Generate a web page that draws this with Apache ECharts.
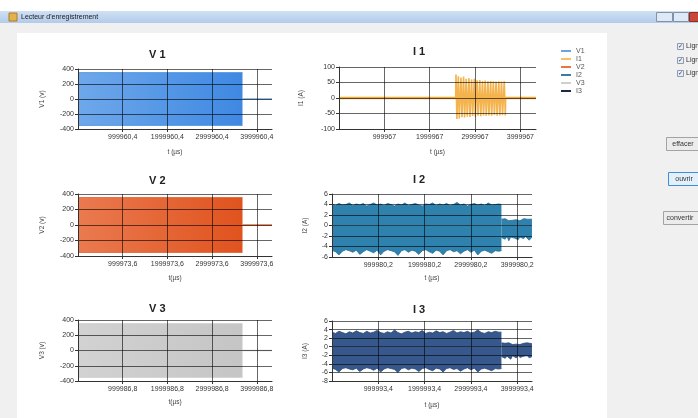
<!DOCTYPE html>
<html>
<head>
<meta charset="utf-8">
<script src="https://cdn.jsdelivr.net/npm/echarts@6/dist/echarts.min.js"></script>
<style>html,body{margin:0;padding:0;background:#f0f0f0}#c{width:698px;height:418px}</style>
</head>
<body>
<div id="c"></div>
<script>
// ---------- names / labels ----------
const seriesNames = ['V1', 'I1', 'V2', 'I2', 'V3', 'I3'];
const chartTitles = ['V 1', 'I 1', 'V 2', 'I 2', 'V 3', 'I 3'];
const yAxisNames = ['V1 (v)', 'I1 (A)', 'V2 (v)', 'I2 (A)', 'V3 (v)', 'I3 (A)'];
const xAxisNames = ['t (µs)', 't (µs)', 't(µs)', 't (µs)', 't(µs)', 't (µs)'];

// x axis (µs): start offset of each plot and its end
const xStart = [-39.6, -33, -26.4, -19.8, -13.2, -6.6];
const xEnd = [4339960.4, 4344967, 4339973.6, 4319980.2, 4339986.8, 4319993.4];
const xTickLabelsV1 = ['999960,4', '1999960,4', '2999960,4', '3999960,4'];
const xTickLabelsI1 = ['999967', '1999967', '2999967', '3999967'];
const xTickLabelsV2 = ['999973,6', '1999973,6', '2999973,6', '3999973,6'];
const xTickLabelsI2 = ['999980,2', '1999980,2', '2999980,2', '3999980,2'];
const xTickLabelsV3 = ['999986,8', '1999986,8', '2999986,8', '3999986,8'];
const xTickLabelsI3 = ['999993,4', '1999993,4', '2999993,4', '3999993,4'];

// y ticks
const yTicksV1 = [-400, -200, 0, 200, 400];
const yTicksI1 = [-100, -50, 0, 50, 100];
const yTicksV2 = [-400, -200, 0, 200, 400];
const yTicksI2 = [-6, -4, -2, 0, 2, 4, 6];
const yTicksV3 = [-400, -200, 0, 200, 400];
const yTicksI3 = [-8, -6, -4, -2, 0, 2, 4, 6];

// ---------- data (envelopes) ----------
// V1
const v1Time = [0, 3680000];
const v1Upper = [352, 352];
const v1Lower = [-352, -352];
const v1TailTime = [3680000, 4339960];
const v1Tail = [0, 0];
// V2
const v2Time = [0, 3680000];
const v2Upper = [355, 355];
const v2Lower = [-355, -355];
const v2TailTime = [3680000, 4339973];
const v2Tail = [0, 0];
// V3
const v3Time = [0, 3680000];
const v3Upper = [352, 352];
const v3Lower = [-352, -352];
const v3TailTime = [3680000, 4339986];
const v3Tail = [0, 0];
// I1
const i1BaseTime = [0, 4344900];
const i1Base = [0, 0];
const i1SpikeTime = [2574000, 2580000, 2600000, 2632000, 2652000, 2690000, 2712000, 2748000, 2770000, 2806000,
  2828000, 2866000, 2888000, 2925000, 2947000, 2985000, 3007000, 3045000, 3067000, 3105000,
  3127000, 3165000, 3187000, 3225000, 3247000, 3285000, 3307000, 3345000, 3367000, 3405000,
  3427000, 3465000, 3487000, 3525000, 3547000, 3585000, 3607000, 3645000, 3668000, 3676000];
const i1Spike = [0, 76, -68, 70, -66, 66, -62, 69, -63, 62,
  -60, 64, -61, 60, -58, 62, -60, 57, -57, 58,
  -59, 55, -56, 56, -58, 54, -56, 55, -57, 54,
  -55, 53, -57, 54, -56, 53, -55, 54, -56, 0];
// I2
const i2Time = [0, 75000, 150000, 225000, 300000, 375000, 450000, 525000, 600000, 675000,
  750000, 825000, 900000, 975000, 1050000, 1125000, 1200000, 1275000, 1350000, 1425000,
  1500000, 1575000, 1650000, 1725000, 1800000, 1875000, 1950000, 2025000, 2100000, 2175000,
  2250000, 2325000, 2400000, 2475000, 2550000, 2625000, 2700000, 2775000, 2850000, 2925000,
  3000000, 3075000, 3150000, 3225000, 3300000, 3375000, 3450000, 3525000, 3600000, 3660000];
const i2Upper = [4.1, 3.8, 4.2, 3.9, 4.0, 4.3, 3.8, 4.1, 3.9, 4.2,
  3.7, 4.0, 4.3, 3.9, 4.1, 3.8, 4.2, 4.0, 3.7, 4.1,
  3.9, 4.3, 3.8, 4.0, 4.2, 3.9, 3.7, 4.1, 4.0, 4.3,
  3.8, 4.1, 3.9, 4.2, 3.8, 4.0, 4.4, 3.9, 4.1, 3.7,
  4.0, 4.2, 3.9, 4.1, 3.8, 4.3, 3.9, 4.0, 4.1, 4.0];
const i2Lower = [-4.7, -5.0, -5.6, -4.9, -4.6, -4.8, -5.1, -4.7, -5.5, -5.0,
  -4.6, -4.9, -5.2, -4.7, -5.6, -4.9, -4.6, -4.8, -5.0, -5.7,
  -4.8, -4.6, -5.1, -4.7, -4.9, -5.5, -4.8, -4.6, -5.0, -5.3,
  -4.7, -4.9, -5.6, -4.8, -4.6, -5.0, -4.8, -5.4, -4.9, -4.6,
  -5.1, -4.7, -5.6, -4.9, -4.7, -5.0, -5.3, -4.8, -4.9, -4.8];
const i2TailTime = [3660000, 3700000, 3740000, 3780000, 3820000, 3860000, 3900000, 3940000, 3980000,
  4020000, 4060000, 4100000, 4140000, 4180000, 4220000, 4260000, 4319000];
const i2TailUpper = [1.2, 1.0, 1.3, 1.1, 0.9, 1.2, 1.0, 1.3, 1.1, 1.2, 0.9, 1.1, 1.3, 1.0, 1.2, 1.1, 1.2];
const i2TailLower = [-2.3, -2.0, -2.6, -2.1, -2.9, -2.2, -2.0, -2.4, -2.1, -2.7, -2.2, -2.0, -2.5, -2.1, -2.3, -2.8, -2.2];
// I3
const i3Time = [0, 75000, 150000, 225000, 300000, 375000, 450000, 525000, 600000, 675000,
  750000, 825000, 900000, 975000, 1050000, 1125000, 1200000, 1275000, 1350000, 1425000,
  1500000, 1575000, 1650000, 1725000, 1800000, 1875000, 1950000, 2025000, 2100000, 2175000,
  2250000, 2325000, 2400000, 2475000, 2550000, 2625000, 2700000, 2775000, 2850000, 2925000,
  3000000, 3075000, 3150000, 3225000, 3300000, 3375000, 3450000, 3525000, 3600000, 3660000];
const i3Upper = [3.4, 3.1, 3.6, 3.3, 3.0, 3.5, 3.2, 3.7, 3.3, 3.1,
  3.6, 3.2, 3.4, 3.8, 3.3, 3.1, 3.5, 3.2, 3.9, 3.3,
  3.0, 3.4, 3.6, 3.2, 3.5, 3.3, 3.8, 3.1, 3.4, 3.2,
  3.7, 3.3, 3.5, 3.1, 3.4, 3.8, 3.2, 3.5, 3.3, 3.6,
  3.2, 3.4, 3.9, 3.3, 3.1, 3.5, 3.3, 3.6, 3.4, 3.4];
const i3Lower = [-5.0, -5.3, -5.9, -5.1, -4.9, -5.2, -5.4, -5.0, -5.8, -5.2,
  -4.9, -5.1, -5.5, -5.0, -5.9, -5.2, -4.9, -5.1, -5.3, -6.0,
  -5.1, -4.9, -5.4, -5.0, -5.2, -5.8, -5.1, -4.9, -5.3, -5.6,
  -5.0, -5.2, -5.9, -5.1, -4.9, -5.3, -5.1, -5.7, -5.2, -4.9,
  -5.4, -5.0, -5.9, -5.2, -5.0, -5.3, -5.6, -5.1, -5.2, -5.1];
const i3TailTime = [3660000, 3700000, 3740000, 3780000, 3820000, 3860000, 3900000, 3940000, 3980000,
  4020000, 4060000, 4100000, 4140000, 4180000, 4220000, 4260000, 4319000];
const i3TailUpper = [0.9, 0.6, 0.8, 0.5, 0.9, 0.7, 0.5, 0.8, 0.6, 0.9, 0.5, 0.7, 0.8, 0.6, 0.9, 0.6, 0.7];
const i3TailLower = [-2.3, -2.0, -2.7, -2.2, -2.4, -2.9, -2.1, -2.3, -2.6, -2.0, -2.5, -2.8, -2.2, -2.4, -2.1, -2.6, -2.3];

// ---------- styling / layout ----------
const FONT = 'Liberation Sans';
const legendColors = ['#6fa3dd', '#f6c25e', '#e8783f', '#3a7d9f', '#cfcfcf', '#1c2a48'];
const grids = [
  { left: 78, top: 69, width: 194, height: 60 },
  { left: 339, top: 67, width: 197, height: 62 },
  { left: 78, top: 194, width: 194, height: 62 },
  { left: 332, top: 194, width: 200, height: 63 },
  { left: 78, top: 320, width: 194, height: 61 },
  { left: 332, top: 321, width: 200, height: 60 }
];
const xTickLabels = [xTickLabelsV1, xTickLabelsI1, xTickLabelsV2, xTickLabelsI2, xTickLabelsV3, xTickLabelsI3];
const yTicks = [yTicksV1, yTicksI1, yTicksV2, yTicksI2, yTicksV3, yTicksI3];
const xNameGap = [20, 20, 19, 18, 18, 21];
const yNameGap = [32, 34, 32, 23, 32, 23];
const titlePos = [[149, 49], [413, 46], [149, 175], [413, 174], [149, 303], [413, 304]];

const gridLineColor = 'rgba(0,0,0,0.6)';

const xAxes = grids.map((g, i) => ({
  gridIndex: i, type: 'value', min: xStart[i], max: xEnd[i], interval: 1000000, z: 5,
  name: xAxisNames[i], nameLocation: 'middle', nameGap: xNameGap[i],
  nameTextStyle: { fontSize: 6.5, color: '#444', fontFamily: FONT },
  axisLine: { show: true, onZero: false, lineStyle: { color: '#333', width: 1 } },
  axisTick: { show: true, length: 3, lineStyle: { color: '#333' } },
  axisLabel: {
    fontSize: 7, color: '#333', fontFamily: FONT, margin: 5, showMinLabel: false, showMaxLabel: false,
    formatter: v => { const k = Math.round((v - xStart[i]) / 1000000); return (k >= 1 && k <= xTickLabels[i].length) ? xTickLabels[i][k - 1] : ''; }
  },
  splitLine: { show: true, showMinLine: false, showMaxLine: false, lineStyle: { color: gridLineColor, width: 1 } }
}));

const yAxes = grids.map((g, i) => ({
  gridIndex: i, type: 'value', min: yTicks[i][0], max: yTicks[i][yTicks[i].length - 1],
  interval: yTicks[i][1] - yTicks[i][0], z: 5,
  name: yAxisNames[i], nameLocation: 'middle', nameRotate: 90, nameGap: yNameGap[i],
  nameTextStyle: { fontSize: 6.5, color: '#444', fontFamily: FONT },
  axisLine: { show: true, onZero: false, lineStyle: { color: '#333', width: 1 } },
  axisTick: { show: true, length: 3, lineStyle: { color: '#333' } },
  axisLabel: { fontSize: 7, color: '#333', fontFamily: FONT, margin: 4 },
  splitLine: { show: true, lineStyle: { color: gridLineColor, width: 1 } }
}));

function pts(t, v) { return t.map((x, k) => [x, v[k]]); }
function hgrad(c1, c2) { return { type: 'linear', x: 0, y: 0, x2: 1, y2: 0, colorStops: [{ offset: 0, color: c1 }, { offset: 1, color: c2 }] }; }

function bandSeries(idx, t, up, lo, fill, edge) {
  const base = { name: seriesNames[idx], type: 'line', xAxisIndex: idx, yAxisIndex: idx, symbol: 'none', silent: true, z: 2,
    lineStyle: { width: 0.8, color: edge }, areaStyle: { color: fill, opacity: 1 } };
  return [Object.assign({}, base, { data: pts(t, up) }), Object.assign({}, base, { data: pts(t, lo) })];
}
function lineSeries(idx, t, v, color, width, extra) {
  return Object.assign({ name: seriesNames[idx], type: 'line', xAxisIndex: idx, yAxisIndex: idx, symbol: 'none', silent: true, z: 3,
    lineStyle: { width: width, color: color }, data: pts(t, v) }, extra || {});
}

const series = [].concat(
  bandSeries(0, v1Time, v1Upper, v1Lower, hgrad('#6ea8eb', '#3f88e2'), '#4a8fe3'),
  [lineSeries(0, v1TailTime, v1Tail, '#6fa8df', 1.5)],
  [lineSeries(1, i1BaseTime, i1Base, '#f2aa3c', 2.5)],
  [lineSeries(1, i1SpikeTime, i1Spike, '#f4b34d', 1.6, { areaStyle: { color: '#f9cb80', opacity: 0.6 } })],
  bandSeries(2, v2Time, v2Upper, v2Lower, hgrad('#ea7a4f', '#e0531f'), '#e2602c'),
  [lineSeries(2, v2TailTime, v2Tail, '#e8683a', 1.5)],
  bandSeries(3, i2Time, i2Upper, i2Lower, '#2f82ae', '#236f9b'),
  bandSeries(3, i2TailTime, i2TailUpper, i2TailLower, '#2f82ae', '#236f9b'),
  bandSeries(4, v3Time, v3Upper, v3Lower, hgrad('#d2d2d2', '#c5c5c5'), '#c8c8c8'),
  [lineSeries(4, v3TailTime, v3Tail, '#d6d6d6', 1.5)],
  bandSeries(5, i3Time, i3Upper, i3Lower, '#37588d', '#2a4677'),
  bandSeries(5, i3TailTime, i3TailUpper, i3TailLower, '#37588d', '#2a4677')
);

const titles = chartTitles.map((t, i) => ({
  text: t, left: titlePos[i][0], top: titlePos[i][1], padding: 0,
  textStyle: { fontSize: 11, fontWeight: 'bold', color: '#222', fontFamily: FONT }
}));

// window chrome
const Z = -10;
function box(x, y, w, h, fill, stroke, extra) {
  return Object.assign({ type: 'rect', z: Z, silent: true, shape: { x: x, y: y, width: w, height: h }, style: { fill: fill, stroke: stroke || null, lineWidth: 1 } }, extra || {});
}
function txt(x, y, s, size, color, align) {
  return { type: 'text', z: Z + 1, silent: true, x: x, y: y, style: { text: s, fontSize: size, fill: color, fontFamily: FONT, align: align || 'left', verticalAlign: 'middle' } };
}
function check(y) {
  return { type: 'text', z: Z + 1, silent: true, x: 680.5, y: y, style: { text: '✓', fontSize: 6, fill: '#333', fontFamily: 'DejaVu Sans', align: 'center', verticalAlign: 'middle' } };
}
const graphicEls = [
  box(0, 0, 698, 11, '#ffffff'),
  box(0, 11, 698, 12, { type: 'linear', x: 0, y: 0, x2: 0, y2: 1, colorStops: [{ offset: 0, color: '#cfe0f4' }, { offset: 1, color: '#b2cbea' }] }),
  box(9, 13, 8, 8, '#e4b24c', '#b07a22'),
  txt(21, 17, "Lecteur d'enregistrement", 7, '#1a1a1a'),
  box(656.5, 12.5, 16, 9, '#dfe9f5', '#7f93ad'),
  box(673.5, 12.5, 15, 9, '#dfe9f5', '#7f93ad'),
  box(689.5, 12.5, 12, 9, '#c9473a', '#8f2c22'),
  box(17, 33, 590, 385, '#ffffff'),
  box(677.5, 43.5, 6, 6, '#e6edf7', '#8e9cb2'),
  box(677.5, 57.5, 6, 6, '#e6edf7', '#8e9cb2'),
  box(677.5, 70.5, 6, 6, '#e6edf7', '#8e9cb2'),
  check(46.5), check(60.5), check(73.5),
  txt(686, 46.5, 'Ligne', 7, '#333'),
  txt(686, 60.5, 'Ligne', 7, '#333'),
  txt(686, 73.5, 'Ligne', 7, '#333'),
  box(666.5, 137.5, 40, 13, '#ececec', '#a3a3a3'),
  txt(683, 144, 'effacer', 7, '#333', 'center'),
  box(668.5, 172.5, 40, 13, '#e3f0fb', '#3d8ed6'),
  txt(684, 179, 'ouvrir', 7, '#333', 'center'),
  box(663.5, 211.5, 40, 13, '#ececec', '#a3a3a3'),
  txt(680, 218.5, 'convertir', 7, '#333', 'center')
];

const chart = echarts.init(document.getElementById('c'), null, { renderer: 'canvas' });
chart.setOption({
  animation: false,
  backgroundColor: '#f0f0f0',
  title: titles,
  legend: {
    orient: 'vertical', left: 561, top: 47, itemWidth: 10, itemHeight: 2, itemGap: 0, icon: 'rect',
    selectedMode: false, padding: 0,
    textStyle: { fontSize: 7, color: '#555', lineHeight: 8, fontFamily: FONT },
    data: seriesNames.map((n, i) => ({ name: n, itemStyle: { color: legendColors[i] }, lineStyle: { color: legendColors[i] } }))
  },
  grid: grids,
  xAxis: xAxes,
  yAxis: yAxes,
  graphic: { elements: graphicEls },
  series: series
});
</script>
</body>
</html>
